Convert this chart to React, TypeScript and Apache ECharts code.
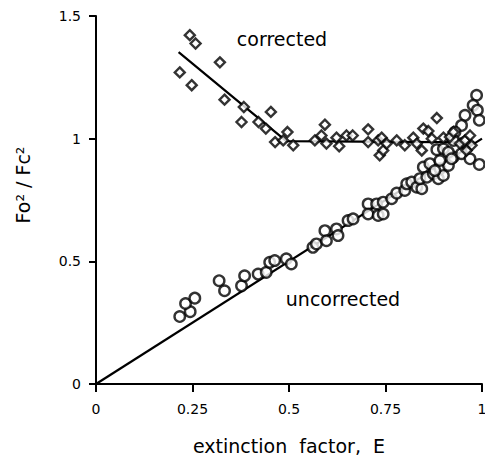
import React, { useEffect, useRef } from "react";
import * as echarts from "echarts";

const correctedX = [0.243, 0.258, 0.217, 0.248, 0.321, 0.333, 0.383, 0.377, 0.421, 0.44, 0.453, 0.464, 0.485, 0.496, 0.511, 0.567, 0.584, 0.593, 0.597, 0.623, 0.63, 0.649, 0.665, 0.705, 0.705, 0.731, 0.74, 0.735, 0.744, 0.753, 0.779, 0.8, 0.822, 0.831, 0.844, 0.848, 0.861, 0.87, 0.883, 0.9, 0.917, 0.926, 0.943, 0.956, 0.969, 0.973, 0.96];
const correctedY = [1.422, 1.388, 1.27, 1.218, 1.311, 1.159, 1.129, 1.068, 1.068, 1.041, 1.109, 0.986, 0.993, 1.027, 0.973, 0.993, 1.013, 1.057, 0.98, 1.004, 0.969, 1.013, 1.013, 1.038, 0.986, 0.993, 1.004, 0.932, 0.952, 0.98, 0.993, 0.973, 1.004, 0.98, 0.952, 1.041, 1.031, 1.0, 1.084, 1.004, 1.007, 1.027, 0.98, 0.993, 1.013, 0.973, 0.952];

const uncorrectedX = [0.217, 0.244, 0.232, 0.256, 0.319, 0.333, 0.377, 0.385, 0.42, 0.441, 0.45, 0.463, 0.493, 0.506, 0.562, 0.571, 0.593, 0.597, 0.623, 0.627, 0.653, 0.666, 0.705, 0.705, 0.727, 0.731, 0.744, 0.744, 0.766, 0.779, 0.8, 0.805, 0.818, 0.831, 0.844, 0.839, 0.848, 0.857, 0.865, 0.874, 0.887, 0.891, 0.9, 0.913, 0.891, 0.926, 0.947, 0.969, 0.993, 0.986, 0.977, 0.988, 0.993, 0.956, 0.947, 0.93, 0.926, 0.956, 0.883, 0.9, 0.913, 0.921, 0.878];
const uncorrectedY = [0.275, 0.295, 0.328, 0.35, 0.421, 0.38, 0.4, 0.441, 0.448, 0.455, 0.496, 0.503, 0.51, 0.489, 0.557, 0.571, 0.625, 0.584, 0.632, 0.605, 0.666, 0.673, 0.734, 0.693, 0.734, 0.687, 0.741, 0.693, 0.755, 0.778, 0.789, 0.816, 0.823, 0.802, 0.796, 0.837, 0.884, 0.843, 0.898, 0.857, 0.837, 0.877, 0.85, 0.891, 0.911, 0.925, 0.939, 0.918, 0.895, 1.177, 1.136, 1.116, 1.075, 1.095, 1.054, 1.027, 0.993, 0.986, 0.955, 0.959, 0.945, 0.918, 0.87];

const correctedFitX = [0.214, 0.493, 0.98];
const correctedFitY = [1.353, 0.99, 0.985];
const uncorrectedFitX = [0, 1];
const uncorrectedFitY = [0, 1];

const xTicks = [0, 0.25, 0.5, 0.75, 1];
const yTicks = [0, 0.5, 1, 1.5];

const FONT = "DejaVu Sans";

export default function App() {
  const ref = useRef<HTMLDivElement>(null);
  useEffect(() => {
    document.body.style.margin = "0";
    const chart = echarts.init(ref.current!, null, { renderer: "svg" });
    const zip = (xs: number[], ys: number[]) => xs.map((x, i) => [x, ys[i]]);
    chart.setOption({
      animation: false,
      backgroundColor: "#ffffff",
      grid: { left: 96, right: 3, top: 16, bottom: 73, containLabel: false, outerBoundsMode: "none" },
      xAxis: {
        type: "value",
        min: xTicks[0],
        max: xTicks[xTicks.length - 1],
        interval: 0.25,
        name: "extinction  factor,  E",
        nameLocation: "middle",
        nameGap: 52,
        nameTextStyle: { fontFamily: FONT, fontSize: 19, color: "#000" },
        axisLine: { lineStyle: { color: "#000", width: 2 } },
        axisTick: { inside: false, length: 8, lineStyle: { color: "#000", width: 2 } },
        axisLabel: { margin: 18, fontFamily: FONT, fontSize: 14, color: "#000" },
        splitLine: { show: false },
      },
      yAxis: {
        type: "value",
        min: yTicks[0],
        max: yTicks[yTicks.length - 1],
        interval: 0.5,
        axisLine: { show: true, lineStyle: { color: "#000", width: 2 } },
        axisTick: { show: true, inside: false, length: 7, lineStyle: { color: "#000", width: 2 } },
        axisLabel: { margin: 15, fontFamily: FONT, fontSize: 14, color: "#000" },
        splitLine: { show: false },
      },
      graphic: [
        {
          type: "text",
          x: 23,
          y: 185,
          rotation: Math.PI / 2,
          style: {
            text: "Fo² / Fc²",
            fontFamily: FONT,
            fontSize: 19,
            fill: "#000",
            align: "center",
            verticalAlign: "middle",
          },
        },
        {
          type: "text",
          x: 282,
          y: 39,
          style: {
            text: "corrected",
            fontFamily: FONT,
            fontSize: 19,
            fill: "#000",
            align: "center",
            verticalAlign: "middle",
          },
        },
        {
          type: "text",
          x: 343,
          y: 299,
          style: {
            text: "uncorrected",
            fontFamily: FONT,
            fontSize: 19,
            fill: "#000",
            align: "center",
            verticalAlign: "middle",
          },
        },
      ],
      series: [
        {
          type: "line",
          data: zip(uncorrectedFitX, uncorrectedFitY),
          showSymbol: false,
          lineStyle: { color: "#000", width: 2.2 },
          z: 1,
        },
        {
          type: "line",
          data: zip(correctedFitX, correctedFitY),
          showSymbol: false,
          lineStyle: { color: "#000", width: 2.2 },
          z: 1,
        },
        {
          type: "scatter",
          data: zip(uncorrectedX, uncorrectedY),
          symbol: "circle",
          symbolSize: 10.5,
          itemStyle: { color: "#fff", borderColor: "#000", borderWidth: 2.4 },
          z: 2,
        },
        {
          type: "scatter",
          data: zip(correctedX, correctedY),
          symbol: "diamond",
          symbolSize: 10,
          itemStyle: { color: "#fff", borderColor: "#000", borderWidth: 2.4 },
          z: 3,
        },
      ],
    });
    return () => chart.dispose();
  }, []);
  return <div ref={ref} style={{ width: 485, height: 457 }} />;
}
